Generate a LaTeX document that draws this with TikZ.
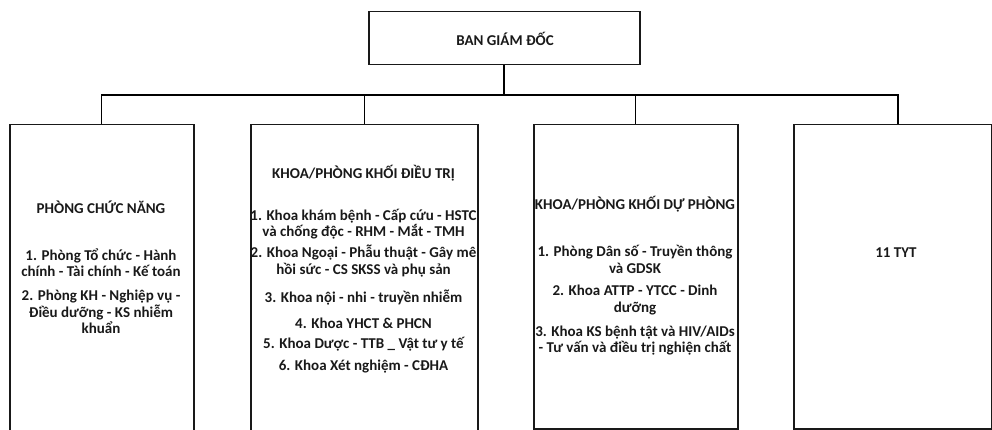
\documentclass[tikz,border=0pt]{standalone}
\usepackage{fontspec}
\setmainfont{Carlito}
\begin{document}
\begin{tikzpicture}[x=1pt,y=-1pt,
  box/.style={draw=black!90, line width=1.5pt, anchor=north west, inner sep=0pt},
  txt/.style={font=\bfseries\fontsize{15}{16.5}\selectfont, align=center, inner sep=0pt, text=black!90},
  conn/.style={draw=black, line width=1.3pt}]
\useasboundingbox (0,0) rectangle (992,430);
% boxes
\node[box, minimum width=271pt, minimum height=53pt] (top) at (368,11) {};
\node[box, minimum width=184pt, minimum height=330pt] (b1) at (9,124) {};
\node[box, minimum width=227pt, minimum height=330pt] (b2) at (250,124) {};
\node[box, minimum width=204pt, minimum height=304pt] (b3) at (533,124) {};
\node[box, minimum width=198pt, minimum height=304pt] (b4) at (793,124) {};
% connectors
\coordinate (bus) at (505,95);
\coordinate (d4) at (898,124);
\draw[conn, line width=2.2pt] (top.south) -- (top.south |- bus);
\draw[conn] (b1.north) -- (b1.north |- bus) -- (d4 |- bus) -- (d4);
\draw[conn] (b2.north |- bus) -- (b2.north);
\draw[conn] (b3.north |- bus) -- (b3.north);
% texts
\node[txt] (t0) at (505,39) {BAN GIÁM ĐỐC};
\node[txt] (t1a) at (101,207) {PHÒNG CHỨC NĂNG};
\node[txt] (t1b) at (101,262.5) {1. Phòng Tổ chức - Hành\\chính - Tài chính - Kế toán};
\node[txt] (t1c) at (101,312) {2. Phòng KH - Nghiệp vụ -\\Điều dưỡng - KS nhiễm\\khuẩn};
\node[txt] (t2a) at (363.5,173) {KHOA/PHÒNG KHỐI ĐIỀU TRỊ};
\node[txt] (t2b) at (363.5,224) {1. Khoa khám bệnh - Cấp cứu - HSTC\\và chống độc - RHM - Mắt - TMH};
\node[txt] (t2c) at (363.5,261) {2. Khoa Ngoại - Phẫu thuật - Gây mê\\hồi sức - CS SKSS và phụ sản};
\node[txt] (t2d) at (363.5,298) {3. Khoa nội - nhi - truyền nhiễm};
\node[txt] (t2e) at (363.5,323) {4. Khoa YHCT \& PHCN};
\node[txt] (t2f) at (363.5,344) {5. Khoa Dược - TTB \_ Vật tư y tế};
\node[txt] (t2g) at (363.5,367) {6. Khoa Xét nghiệm - CĐHA};
\node[txt] (t3a) at (635,204) {KHOA/PHÒNG KHỐI DỰ PHÒNG};
\node[txt] (t3b) at (635,259.5) {1. Phòng Dân số - Truyền thông\\và GDSK};
\node[txt] (t3c) at (635,300) {2. Khoa ATTP - YTCC - Dinh\\dưỡng};
\node[txt] (t3d) at (635,340.5) {3. Khoa KS bệnh tật và HIV/AIDs\\- Tư vấn và điều trị nghiện chất};
\node[txt] (t4a) at (896,253) {11 TYT};
\end{tikzpicture}
\end{document}
